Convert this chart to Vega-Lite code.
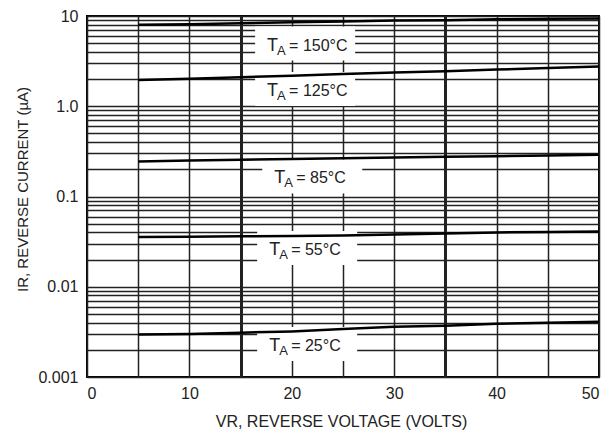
{
  "$schema": "https://vega.github.io/schema/vega-lite/v6.json",
  "width": 512,
  "height": 361,
  "autosize": {"type": "none"},
  "padding": {"left": 87, "top": 16, "right": 11, "bottom": 57},
  "background": "white",
  "config": {
    "font": "Liberation Sans",
    "view": {"stroke": "black", "strokeWidth": 2}
  },
  "datasets": {
    "curves": [
      {"series": "150", "x": 5, "y": 8.0}, {"series": "150", "x": 10, "y": 8.1}, {"series": "150", "x": 15, "y": 8.3}, {"series": "150", "x": 20, "y": 8.5}, {"series": "150", "x": 25, "y": 8.7}, {"series": "150", "x": 30, "y": 8.9}, {"series": "150", "x": 35, "y": 9.0}, {"series": "150", "x": 40, "y": 9.2}, {"series": "150", "x": 45, "y": 9.3}, {"series": "150", "x": 50, "y": 9.4},
      {"series": "125", "x": 5, "y": 1.95}, {"series": "125", "x": 10, "y": 2.02}, {"series": "125", "x": 15, "y": 2.1}, {"series": "125", "x": 20, "y": 2.18}, {"series": "125", "x": 25, "y": 2.27}, {"series": "125", "x": 30, "y": 2.36}, {"series": "125", "x": 35, "y": 2.45}, {"series": "125", "x": 40, "y": 2.55}, {"series": "125", "x": 45, "y": 2.65}, {"series": "125", "x": 50, "y": 2.75},
      {"series": "85", "x": 5, "y": 0.245}, {"series": "85", "x": 10, "y": 0.25}, {"series": "85", "x": 15, "y": 0.255}, {"series": "85", "x": 20, "y": 0.26}, {"series": "85", "x": 25, "y": 0.265}, {"series": "85", "x": 30, "y": 0.27}, {"series": "85", "x": 35, "y": 0.275}, {"series": "85", "x": 40, "y": 0.28}, {"series": "85", "x": 45, "y": 0.285}, {"series": "85", "x": 50, "y": 0.29},
      {"series": "55", "x": 5, "y": 0.0355}, {"series": "55", "x": 10, "y": 0.0358}, {"series": "55", "x": 15, "y": 0.0362}, {"series": "55", "x": 20, "y": 0.0366}, {"series": "55", "x": 25, "y": 0.037}, {"series": "55", "x": 30, "y": 0.038}, {"series": "55", "x": 35, "y": 0.039}, {"series": "55", "x": 40, "y": 0.04}, {"series": "55", "x": 45, "y": 0.0405}, {"series": "55", "x": 50, "y": 0.041},
      {"series": "25", "x": 5, "y": 0.00295}, {"series": "25", "x": 10, "y": 0.003}, {"series": "25", "x": 15, "y": 0.0031}, {"series": "25", "x": 20, "y": 0.0032}, {"series": "25", "x": 25, "y": 0.0034}, {"series": "25", "x": 30, "y": 0.0036}, {"series": "25", "x": 35, "y": 0.0037}, {"series": "25", "x": 40, "y": 0.0039}, {"series": "25", "x": 45, "y": 0.004}, {"series": "25", "x": 50, "y": 0.0041}
    ],
    "labels": [
      {"label": "= 150°C", "x": 21.3, "y": 4.95},
      {"label": "= 125°C", "x": 21.3, "y": 1.55},
      {"label": "= 85°C", "x": 22.0, "y": 0.1667},
      {"label": "= 55°C", "x": 21.5, "y": 0.0268},
      {"label": "= 25°C", "x": 21.5, "y": 0.00232}
    ]
  },
  "encoding": {
    "x": {
      "field": "x", "type": "quantitative",
      "scale": {"domain": [0, 50], "nice": false, "zero": false},
      "axis": {
        "values": [0, 5, 10, 15, 20, 25, 30, 35, 40, 45, 50],
        "labelExpr": "datum.value % 10 == 0 ? '' + datum.value : ''",
        "labelOverlap": false,
        "labelFontSize": 16,
        "labelColor": "#222",
        "labelPadding": 8,
        "ticks": false,
        "domain": false,
        "grid": true,
        "gridColor": "#222",
        "gridOpacity": 1,
        "gridWidth": {"condition": {"test": "datum.value == 15 || datum.value == 35", "value": 3}, "value": 1.5},
        "title": "VR, REVERSE VOLTAGE (VOLTS)",
        "titleFontSize": 16,
        "titleFontWeight": "normal",
        "titleColor": "#222",
        "titleX": 254,
        "titleY": 44,
        "titleAlign": "center",
        "titleBaseline": "middle"
      }
    },
    "y": {
      "field": "y", "type": "quantitative",
      "scale": {"type": "log", "domain": [0.001, 10], "nice": false},
      "axis": {
        "values": [0.001, 0.002, 0.003, 0.004, 0.005, 0.006, 0.007, 0.008, 0.009, 0.01, 0.02, 0.03, 0.04, 0.05, 0.06, 0.07, 0.08, 0.09, 0.1, 0.2, 0.3, 0.4, 0.5, 0.6, 0.7, 0.8, 0.9, 1, 2, 3, 4, 5, 6, 7, 8, 9, 10],
        "labelExpr": "datum.value == 1 ? '1.0' : (indexof(['0.001', '0.01', '0.1', '10'], '' + datum.value) >= 0 ? '' + datum.value : '')",
        "labelOverlap": false,
        "labelFontSize": 16,
        "labelColor": "#222",
        "labelPadding": 9,
        "ticks": false,
        "domain": false,
        "grid": true,
        "gridColor": "#222",
        "gridOpacity": 1,
        "gridWidth": 1.4,
        "title": "IR, REVERSE CURRENT (µA)",
        "titleFontSize": 15,
        "titleFontWeight": "normal",
        "titleColor": "#222",
        "titleX": -65,
        "titleY": 173,
        "titleAngle": -90,
        "titleAlign": "center",
        "titleBaseline": "middle"
      }
    }
  },
  "layer": [
    {
      "data": {"name": "labels"},
      "mark": {"type": "point", "shape": "M-1,-0.34H1V0.34H-1Z", "size": 10000, "filled": true, "fill": "white", "opacity": 1, "strokeWidth": 0}
    },
    {
      "data": {"name": "curves"},
      "mark": {"type": "line", "color": "black", "strokeWidth": 2.5},
      "encoding": {"detail": {"field": "series"}}
    },
    {
      "data": {"name": "labels"},
      "mark": {"type": "text", "text": "T", "align": "left", "baseline": "alphabetic", "dx": -38, "dy": 7, "fontSize": 18, "color": "#222"}
    },
    {
      "data": {"name": "labels"},
      "mark": {"type": "text", "text": "A", "align": "left", "baseline": "alphabetic", "dx": -28, "dy": 11, "fontSize": 13, "color": "#222"}
    },
    {
      "data": {"name": "labels"},
      "mark": {"type": "text", "align": "left", "baseline": "alphabetic", "dx": -16, "dy": 7, "fontSize": 16, "color": "#222"},
      "encoding": {"text": {"field": "label"}}
    }
  ]
}
